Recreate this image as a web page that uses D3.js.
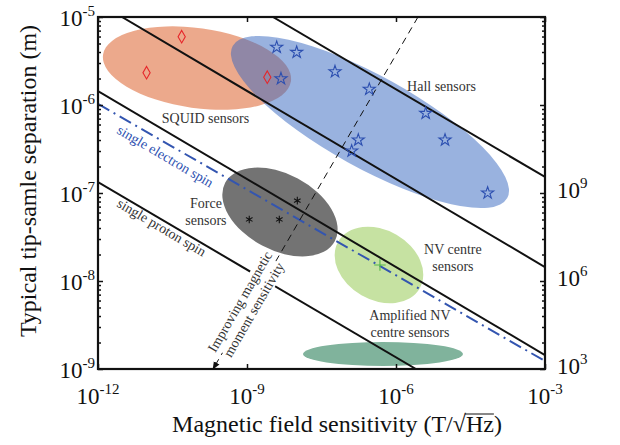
<!DOCTYPE html>
<html lang="en">
<head>
<meta charset="UTF-8" />
<title>Magnetic sensors</title>
<script src="https://d3js.org/d3.v7.min.js"></script>
<style>
    body { margin: 0; background: #fff; }
    text { font-family: "Liberation Serif", "DejaVu Serif", serif; }
    .note { font-size: 14px; fill: #333; }
    .tick-label { font-size: 23px; fill: #111; }
</style>
</head>
<body>
<script>
    // ---- data (B in T/sqrt(Hz), r in m) ----
    const xTicks = [1e-12, 1e-9, 1e-6, 1e-3];
    const xTickExp = ["-12", "-9", "-6", "-3"];
    const yTicks = [1e-9, 1e-8, 1e-7, 1e-6, 1e-5];
    const yTickExp = ["-9", "-8", "-7", "-6", "-5"];
    const momentTicks = [1e3, 1e6, 1e9];
    const momentTickExp = ["3", "6", "9"];

    const squidPoints = [[9.5e-12, 2.33e-6], [4.84e-11, 5.97e-6], [2.56e-9, 2.07e-6]];
    const hallPoints = [[3.96e-9, 4.53e-6], [1.0e-8, 3.97e-6], [4.83e-9, 1.99e-6], [5.91e-8, 2.39e-6],
        [2.9e-7, 1.51e-6], [3.96e-6, 8.05e-7], [1.74e-7, 4.0e-7], [1.28e-7, 3.0e-7],
        [9.7e-6, 4.0e-7], [7.0e-5, 1.0e-7]];
    const forcePoints = [[1.03e-8, 8.2e-8], [1.11e-9, 5.0e-8], [4.47e-9, 5.0e-8]];
    const nvPoints = [[4.75e-7, 1.52e-8]];

    // constant-moment lines, each by two end points
    const momentLines = [
        [[3.33e-9, 1e-5], [1e-3, 1.52e-7]],
        [[3.04e-12, 1e-5], [1e-3, 1.44e-8]],
        [[1e-12, 1.44e-6], [1e-3, 1.44e-9]],
        [[1e-12, 1.33e-7], [2.52e-6, 1e-9]]
    ];
    const electronLine = [[1e-12, 1.03e-6], [1e-3, 1.23e-9]];
    const improvingArrow = [[2.77e-6, 1e-5], [2.07e-10, 1e-9]];

    // sensor regions: centre (B, r), half axes in decades of B, tilt in degrees
    const regionNames = ["SQUID", "Hall", "Force", "NV", "Amplified NV"];
    const regionCentres = [[9.84e-11, 2.63e-6], [2.99e-7, 6.41e-7], [4.61e-9, 6.08e-8], [4.54e-7, 1.52e-8], [5.47e-7, 1.48e-9]];
    const regionAxes = [[1.91, 0.805], [3.16, 0.926], [1.25, 0.765], [0.946, 0.705], [1.61, 0.24]];
    const regionTilt = [8, 29, 28, 30, 0];
    const regionColors = ["rgba(217,84,26,0.5)", "rgba(51,102,191,0.5)", "rgba(0,0,0,0.55)", "#c6e2a2", "#80b39c"];

    const notes = [
        { lines: ["SQUID sensors"], at: [1.46e-10, 6.24e-7] },
        { lines: ["Hall sensors"], at: [8.24e-6, 1.44e-6] },
        { lines: ["Force", "sensors"], at: [1.49e-10, 6.76e-8] },
        { lines: ["NV centre", "sensors"], at: [1.4e-5, 2.03e-8] },
        { lines: ["Amplified NV", "centre sensors"], at: [1.91e-6, 3.6e-9] }
    ];

    const w = 620, h = 445;
    const margin = { left: 98, top: 17, right: 75, bottom: 76 };

    const svg = d3.select("body").append("svg")
        .attr("width", w)
        .attr("height", h);

    const x = d3.scaleLog().domain([1e-12, 1e-3]).range([margin.left, w - margin.right]);
    const y = d3.scaleLog().domain([1e-9, 1e-5]).range([h - margin.bottom, margin.top]);
    const yM = d3.scaleLog().domain([1e3, 1e15]).range([h - margin.bottom, margin.top]);
    const decade = x(10) - x(1);

    svg.append("clipPath").attr("id", "plot")
        .append("rect")
        .attr("x", x.range()[0]).attr("y", y.range()[1])
        .attr("width", x.range()[1] - x.range()[0])
        .attr("height", y.range()[0] - y.range()[1]);

    const plot = svg.append("g").attr("clip-path", "url(#plot)");

    // regions
    plot.selectAll("ellipse")
        .data(regionNames)
        .enter().append("ellipse")
        .attr("cx", (d, i) => x(regionCentres[i][0]))
        .attr("cy", (d, i) => y(regionCentres[i][1]))
        .attr("rx", (d, i) => regionAxes[i][0] * decade)
        .attr("ry", (d, i) => regionAxes[i][1] * decade)
        .attr("transform", (d, i) => `rotate(${regionTilt[i]},${x(regionCentres[i][0])},${y(regionCentres[i][1])})`)
        .attr("fill", (d, i) => regionColors[i]);

    const line = d3.line().x(d => x(d[0])).y(d => y(d[1]));

    plot.selectAll("path.moment")
        .data(momentLines)
        .enter().append("path")
        .attr("class", "moment")
        .attr("d", line)
        .attr("stroke", "#111")
        .attr("stroke-width", 2)
        .attr("fill", "none");

    plot.append("path")
        .attr("d", line(electronLine))
        .attr("stroke", "#3355b0")
        .attr("stroke-width", 2)
        .attr("stroke-dasharray", "13,5,2,5")
        .attr("fill", "none");

    svg.append("defs").append("marker")
        .attr("id", "arrow")
        .attr("viewBox", "0 0 10 10")
        .attr("refX", 9).attr("refY", 5)
        .attr("markerWidth", 8).attr("markerHeight", 8)
        .attr("markerUnits", "userSpaceOnUse")
        .attr("orient", "auto")
        .append("path")
        .attr("d", "M0,1L10,5L0,9Z")
        .attr("fill", "#111");

    plot.append("path")
        .attr("d", line(improvingArrow))
        .attr("stroke", "#111")
        .attr("stroke-width", 1)
        .attr("stroke-dasharray", "7,5")
        .attr("fill", "none")
        .attr("marker-end", "url(#arrow)");

    // arrow caption, on a white patch that hides the lines behind it
    const arrowAngle = Math.atan2(y(improvingArrow[0][1]) - y(improvingArrow[1][1]),
        x(improvingArrow[0][0]) - x(improvingArrow[1][0])) * 180 / Math.PI;
    const impG = svg.append("g")
        .attr("transform", `translate(${x(8.69e-10)},${y(5.48e-9)}) rotate(${arrowAngle})`);
    const impBg = impG.append("rect").attr("fill", "#fff");
    const imp = impG.append("text")
        .attr("class", "note")
        .attr("text-anchor", "middle");
    imp.append("tspan").attr("x", 0).attr("dy", 0).text("Improving magnetic");
    imp.append("tspan").attr("x", 0).attr("dy", 16).text("moment sensitivity");
    const ib = imp.node().getBBox();
    impBg.attr("x", ib.x + 4).attr("y", ib.y + 1)
        .attr("width", ib.width - 8).attr("height", ib.height - 2);

    // markers
    function marks(points, type, size, color) {
        plot.append("g").selectAll("path")
            .data(points)
            .enter().append("path")
            .attr("transform", d => `translate(${x(d[0])},${y(d[1])})`)
            .attr("d", d3.symbol().type(type).size(size))
            .attr("fill", "none")
            .attr("stroke", color)
            .attr("stroke-width", 1.1);
    }
    marks(squidPoints, d3.symbolDiamond, 45, "#e6262a");
    marks(hallPoints, d3.symbolStar, 45, "#2c4fb0");
    marks(forcePoints, d3.symbolAsterisk, 40, "#111");
    marks(nvPoints, d3.symbolPlus, 45, "#55b848");

    // notes
    notes.forEach(n => {
        const t = svg.append("text")
            .attr("class", "note")
            .attr("text-anchor", "middle")
            .attr("x", x(n.at[0]))
            .attr("y", y(n.at[1]));
        n.lines.forEach((s, i) => {
            t.append("tspan")
                .attr("x", x(n.at[0]))
                .attr("dy", i === 0 ? 0 : 17)
                .text(s);
        });
    });

    const slopeAngle = Math.atan2(y(electronLine[1][1]) - y(electronLine[0][1]),
        x(electronLine[1][0]) - x(electronLine[0][0])) * 180 / Math.PI;

    svg.append("text")
        .attr("class", "note")
        .style("fill", "#2c4fb0")
        .attr("transform", `translate(${x(2.3e-12)},${y(4.85e-7)}) rotate(${slopeAngle + 0.5})`)
        .text("single electron spin");

    svg.append("text")
        .attr("class", "note")
        .attr("transform", `translate(${x(2.3e-12)},${y(7.11e-8)}) rotate(${slopeAngle + 0.5})`)
        .text("single proton spin");

    // axes
    const gl = svg.append("g").attr("transform", `translate(${x.range()[0]},0)`)
        .call(d3.axisLeft(y).tickSizeOuter(0).tickFormat("").tickSize(-3));
    const gr = svg.append("g").attr("transform", `translate(${x.range()[1]},0)`)
        .call(d3.axisRight(y).tickSizeOuter(0).tickFormat("").tickSize(-3));
    [gl, gr].forEach(g => {
        g.selectAll(".tick line")
            .filter(d => yTicks.includes(d))
            .attr("x2", g === gl ? 5 : -5);
    });
    svg.append("g").attr("transform", `translate(0,${y.range()[0]})`)
        .call(d3.axisBottom(x).tickValues(xTicks).tickFormat("").tickSize(-5).tickSizeOuter(0));
    svg.append("g").attr("transform", `translate(0,${y.range()[1]})`)
        .call(d3.axisTop(x).tickValues(xTicks).tickFormat("").tickSize(-5).tickSizeOuter(0));
    svg.selectAll(".domain").remove();
    svg.selectAll(".tick line").attr("stroke", "#111").attr("stroke-width", 1.5);

    svg.append("rect")
        .attr("x", x.range()[0]).attr("y", y.range()[1])
        .attr("width", x.range()[1] - x.range()[0])
        .attr("height", y.range()[0] - y.range()[1])
        .attr("fill", "none")
        .attr("stroke", "#111")
        .attr("stroke-width", 2.2);

    // tick labels
    function power(g, px, py, exp, anchor) {
        const t = g.append("text")
            .attr("class", "tick-label")
            .attr("x", px).attr("y", py)
            .attr("text-anchor", anchor);
        t.append("tspan").text("10");
        t.append("tspan").attr("dy", -10).style("font-size", "15px").text(exp);
    }
    xTicks.forEach((v, i) => power(svg, x(v), 404, xTickExp[i], "middle"));
    yTicks.forEach((v, i) => power(svg, 95, y(v) + 9, yTickExp[i], "end"));
    momentTicks.forEach((v, i) => power(svg, 557, yM(v) + 5, momentTickExp[i], "start"));

    // axis titles
    const xl = svg.append("text")
        .attr("x", 337)
        .attr("y", 432)
        .attr("text-anchor", "middle")
        .style("font-size", "24px")
        .attr("fill", "#111");
    xl.append("tspan").text("Magnetic field sensitivity (T/√");
    xl.append("tspan").text("Hz");
    xl.append("tspan").text(")");
    const node = xl.node();
    const iH = node.textContent.indexOf("Hz");
    const x0 = node.getStartPositionOfChar(iH).x;
    const x1 = node.getEndPositionOfChar(iH + 1).x;
    svg.append("line")
        .attr("x1", x0 - 1).attr("x2", x1)
        .attr("y1", 432 - 18).attr("y2", 432 - 18)
        .attr("stroke", "#111").attr("stroke-width", 1);

    svg.append("text")
        .attr("transform", "translate(36,181) rotate(-90)")
        .attr("text-anchor", "middle")
        .style("font-size", "24px")
        .attr("fill", "#111")
        .text("Typical tip-samle separation (m)");
</script>
</body>
</html>
